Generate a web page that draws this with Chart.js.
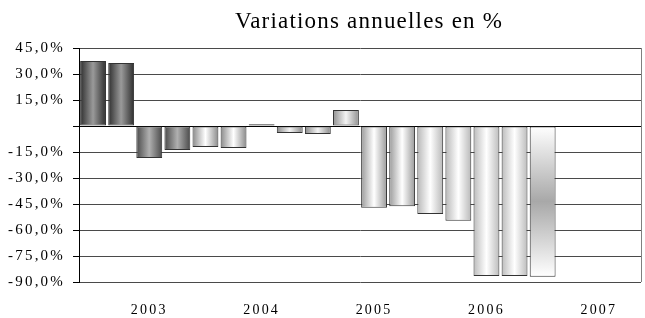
<!DOCTYPE html>
<html>
<head>
<meta charset="utf-8">
<script src="https://cdn.jsdelivr.net/npm/chart.js@4/dist/chart.umd.min.js"></script>
<style>
  html, body { margin: 0; padding: 0; background: #fff; }
  #wrap { width: 645px; height: 318px; }
</style>
</head>
<body>
<div id="wrap"><canvas id="chartVariations"></canvas></div>
<script>
// quarters, 4 per year, year shown under the third one
const trimestres = [
    'T1 2003', 'T2 2003', 'T3 2003', 'T4 2003',
    'T1 2004', 'T2 2004', 'T3 2004', 'T4 2004',
    'T1 2005', 'T2 2005', 'T3 2005', 'T4 2005',
    'T1 2006', 'T2 2006', 'T3 2006', 'T4 2006',
    'T1 2007', 'T2 2007', 'T3 2007', 'T4 2007'
];
const etiquetasAnnees = ['', '', '2003', '', '', '', '2004', '', '', '', '2005', '', '', '', '2006', '', '', '', '2007', ''];
const variations = [37.5, 36.3, -18.5, -13.8, -12.1, -12.7, 1.0, -4.0, -4.6, 9.2,
    -47.2, -46.3, -50.8, -54.6, -86.5, -86.5, -87.0, null, null, null];
const ticksY = [45, 30, 15, 0, -15, -30, -45, -60, -75, -90];
const titre = 'Variations annuelles en %';

// shading per bar: [edge, center]
const teintes = [
    ['#2e2e2e', '#9a9a9a'], ['#2e2e2e', '#9a9a9a'],
    ['#4a4a4a', '#b0b0b0'], ['#4a4a4a', '#b0b0b0'],
    ['#8a8a8a', '#ffffff'], ['#8a8a8a', '#ffffff'],
    ['#333333', '#666666'],
    ['#8a8a8a', '#f4f4f4'], ['#8a8a8a', '#f4f4f4'], ['#909090', '#f4f4f4'],
    ['#9a9a9a', '#ffffff'], ['#9a9a9a', '#ffffff'], ['#b8b8b8', '#ffffff'], ['#b8b8b8', '#ffffff'],
    ['#bcbcbc', '#ffffff'], ['#bcbcbc', '#ffffff'],
    ['#ffffff', '#a8a8a8']
];

const formatPct = v => v.toFixed(1).replace('.', ',') + '%';

const degrade = (context) => {
    const i = context.dataIndex;
    const t = teintes[i] || ['#aaa', '#fff'];
    const chart = context.chart;
    const xs = chart.scales && chart.scales.x;
    const ys = chart.scales && chart.scales.y;
    if (!xs || !ys || !chart.chartArea || i === undefined) return t[0];
    const ctx = chart.ctx;
    if (i === 16) {
        const g = ctx.createLinearGradient(0, ys.getPixelForValue(0), 0, ys.getPixelForValue(variations[i]));
        g.addColorStop(0, t[0]);
        g.addColorStop(0.5, t[1]);
        g.addColorStop(1, t[0]);
        return g;
    }
    const cx = xs.getPixelForValue(i);
    const w = (chart.chartArea.width / trimestres.length) * 0.92;
    const g = ctx.createLinearGradient(cx - w / 2, 0, cx + w / 2, 0);
    g.addColorStop(0, t[0]);
    g.addColorStop(0.5, t[1]);
    g.addColorStop(1, t[0]);
    return g;
};

// letter spacing like the original, right border and title
const habillage = {
    id: 'habillage',
    beforeUpdate(chart) { chart.ctx.letterSpacing = '2.2px'; },
    beforeDraw(chart) { chart.ctx.letterSpacing = '2.2px'; },
    afterDraw(chart) {
        const { ctx, chartArea } = chart;
        ctx.save();
        ctx.strokeStyle = '#808080';
        ctx.lineWidth = 1;
        ctx.beginPath();
        ctx.moveTo(chartArea.right + 0.5, chartArea.top);
        ctx.lineTo(chartArea.right + 0.5, chartArea.bottom);
        ctx.stroke();
        ctx.letterSpacing = '1.2px';
        ctx.fillStyle = '#000';
        ctx.font = '23px "Liberation Serif"';
        ctx.textAlign = 'center';
        ctx.textBaseline = 'middle';
        ctx.fillText(titre, (chartArea.left + chartArea.right) / 2 + 9, 22);
        ctx.restore();
    }
};

const ctxVar = document.getElementById('chartVariations').getContext('2d');
new Chart(ctxVar, {
    type: 'bar',
    data: {
        labels: trimestres,
        datasets: [{
            label: titre,
            data: variations,
            backgroundColor: degrade,
            borderColor: '#333333',
            borderWidth: 1,
            borderSkipped: false,
            categoryPercentage: 1,
            barPercentage: 0.92
        }]
    },
    options: {
        responsive: true,
        maintainAspectRatio: false,
        animation: false,
        layout: { padding: { left: 0, right: 4, top: 48, bottom: 0 } },
        plugins: {
            legend: { display: false },
            tooltip: { enabled: false },
            title: { display: false }
        },
        scales: {
            x: {
                afterFit: scale => { scale.height = 36; },
                grid: { display: false },
                border: { display: false },
                ticks: {
                    autoSkip: false,
                    maxRotation: 0,
                    color: '#000',
                    padding: 12,
                    font: { family: 'Liberation Serif', size: 14 },
                    callback: (v, i) => etiquetasAnnees[i]
                }
            },
            y: {
                min: -90,
                max: 45,
                afterFit: scale => { scale.width = 79; },
                afterBuildTicks: axis => { axis.ticks = ticksY.map(v => ({ value: v })); },
                grid: {
                    color: ctx => ctx.tick && ctx.tick.value === 0 ? '#000' : '#4a4a4a',
                    tickColor: '#000',
                    tickLength: 6
                },
                border: { display: true, color: '#000', width: 1 },
                ticks: {
                    color: '#000',
                    padding: 8,
                    font: { family: 'Liberation Serif', size: 15 },
                    callback: v => v === 0 ? '' : formatPct(v)
                }
            }
        }
    },
    plugins: [habillage]
});
</script>
</body>
</html>
